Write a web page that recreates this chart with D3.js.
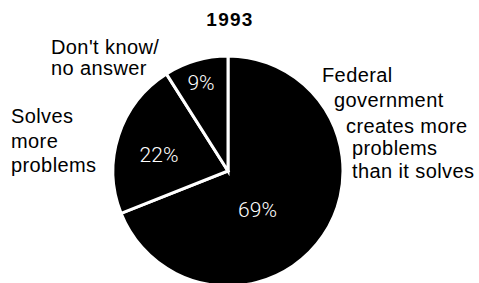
<!DOCTYPE html>
<html><head><meta charset="utf-8">
<script src="https://cdn.jsdelivr.net/npm/d3@7"></script>
<style>html,body{margin:0;padding:0;background:#fff;}svg{display:block;}</style>
</head><body>
<script>
const title = "1993";
const categories = ["Federal government creates more problems than it solves", "Solves more problems", "Don't know/ no answer"];
const values = [69, 22, 9];
const valueLabels = ["69%", "22%", "9%"];
const outerLabelLines = [
  ["Federal", "government", "creates more", "problems", "than it solves"],
  ["Solves", "more", "problems"],
  ["Don't know/", "no answer"]
];

const W = 479, H = 283;
const cx = 228, cy = 171, R = 115;
const font = "'Liberation Sans', Arial, Helvetica, sans-serif";

const svg = d3.select("body").append("svg").attr("width", W).attr("height", H);
svg.append("rect").attr("width", W).attr("height", H).attr("fill", "#fff");

svg.append("text").attr("x", 230).attr("y", 26).attr("text-anchor", "middle")
  .attr("font-family", font).attr("font-weight", "bold").attr("font-size", 19)
  .attr("letter-spacing", 1.3)
  .text(title);

const pie = d3.pie().sort(null).value(d => d)(values);
const arc = d3.arc().innerRadius(0).outerRadius(R);
const g = svg.append("g").attr("transform", `translate(${cx},${cy})`);
g.selectAll("path.slice").data(pie).join("path").attr("class", "slice")
  .attr("d", arc).attr("fill", "#000").attr("stroke", "#fff").attr("stroke-width", 3)
  .attr("stroke-linejoin", "miter");

// inner percentage labels
const labelPos = [[29.5, 46], [-69, -9], [-27, -81]];
g.selectAll("text.pct").data(pie).join("text").attr("class", "pct")
  .attr("x", (d, i) => labelPos[i][0]).attr("y", (d, i) => labelPos[i][1])
  .attr("text-anchor", "middle").attr("font-family", "Roboto, 'Liberation Sans', sans-serif")
  .attr("font-weight", 300).attr("font-size", 21)
  .attr("fill", "#fff").text((d, i) => valueLabels[i]);

// outside labels
const outer = [
  {x: [322, 334, 346, 352, 352], y: [82, 106.5, 133, 155, 178]},
  {x: [11, 11, 11], y: [123, 148, 172]},
  {x: [51, 51], y: [54, 75]}
];
outerLabelLines.forEach((lines, i) => {
  const o = outer[i];
  lines.forEach((ln, j) => {
    svg.append("text").attr("x", o.x[j]).attr("y", o.y[j])
      .attr("font-family", font).attr("font-size", 20).attr("letter-spacing", 0.4)
      .attr("fill", "#000").text(ln);
  });
});
</script>
</body></html>
